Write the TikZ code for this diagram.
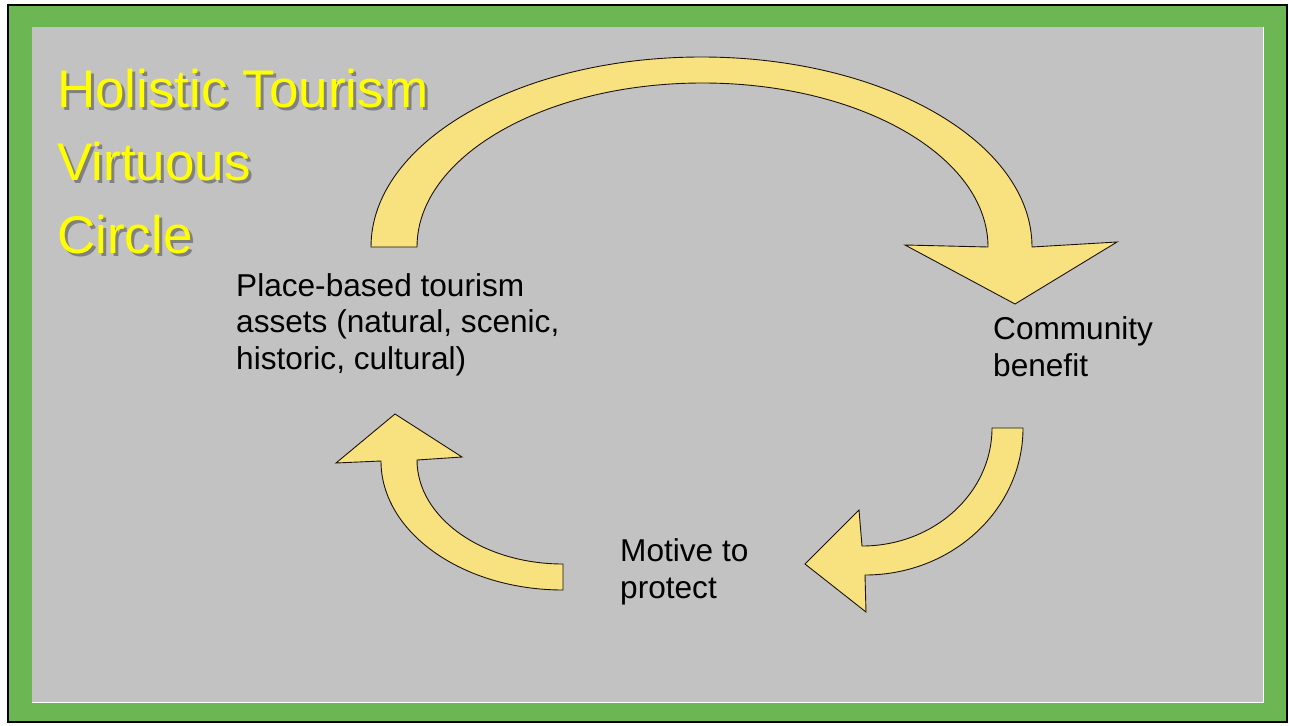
\documentclass[tikz,border=0pt]{standalone}
\usepackage{fontspec}
\setmainfont{Liberation Sans}
\definecolor{framegreen}{RGB}{108,182,84}
\definecolor{panelgray}{RGB}{194,194,194}
\definecolor{arrowfill}{RGB}{248,226,128}
\definecolor{titleyellow}{RGB}{255,255,0}
\begin{document}
\begin{tikzpicture}[x=1pt,y=-1pt,
  curvedarrow/.style={fill=arrowfill, draw=black!85!brown, line width=0.9pt, line join=miter},
  bodytext/.style={anchor=base west, inner sep=0pt, align=left, font=\fontsize{31.6}{36.2}\selectfont, text=black},
  titletext/.style={anchor=base west, inner sep=0pt, align=left, font=\fontsize{53}{73}\selectfont},
]
\useasboundingbox (0,0) rectangle (1289,725);
% slide frame
\fill[white] (0,0) rectangle (1289,725);
\draw[fill=framegreen, line width=2pt] (8,5) rectangle (1287,722);
\fill[panelgray] (32,27) rectangle (1263,702);
\draw[white, line width=1pt] (1263,27) -- (1263,702) -- (32,702);

% big arc: assets -> community benefit
\filldraw[curvedarrow] (371,247)
  arc[start angle=180, end angle=360, x radius=330.5, y radius=190]
  -- (1117,242) -- (1015,304) -- (905,245) -- (988,247)
  arc[start angle=0, end angle=-180, x radius=285.5, y radius=164]
  -- cycle;

% community benefit -> motive to protect
\filldraw[curvedarrow] (992,428) -- (1023,428)
  arc[start angle=0, end angle=90, x radius=158, y radius=147]
  -- (866,612) -- (805,564) -- (859,510) -- (862,546)
  arc[start angle=90, end angle=0, x radius=130, y radius=118]
  -- cycle;

% motive to protect -> assets
\filldraw[curvedarrow] (563,564) -- (563,590)
  arc[start angle=90, end angle=180, x radius=182, y radius=129]
  -- (336,463) -- (395,414) -- (462,457) -- (417,460)
  arc[start angle=180, end angle=90, x radius=146, y radius=104]
  -- cycle;

% title with drop shadow (anchored at the last line's baseline)
\node[titletext, text=black!70, opacity=0.55] (titleshadow) at (60,256) {Holistic Tourism\\Virtuous\\Circle};
\node[titletext, text=titleyellow] (title) at (57,253) {Holistic Tourism\\Virtuous\\Circle};

% cycle stages (anchored at the last line's baseline)
\node[bodytext] (assets) at (236,369) {Place-based tourism\\assets (natural, scenic,\\historic, cultural)};
\node[bodytext] (benefit) at (993,376) {Community\\benefit};
\node[bodytext] (motive) at (620,598) {Motive to\\protect};
\end{tikzpicture}
\end{document}
